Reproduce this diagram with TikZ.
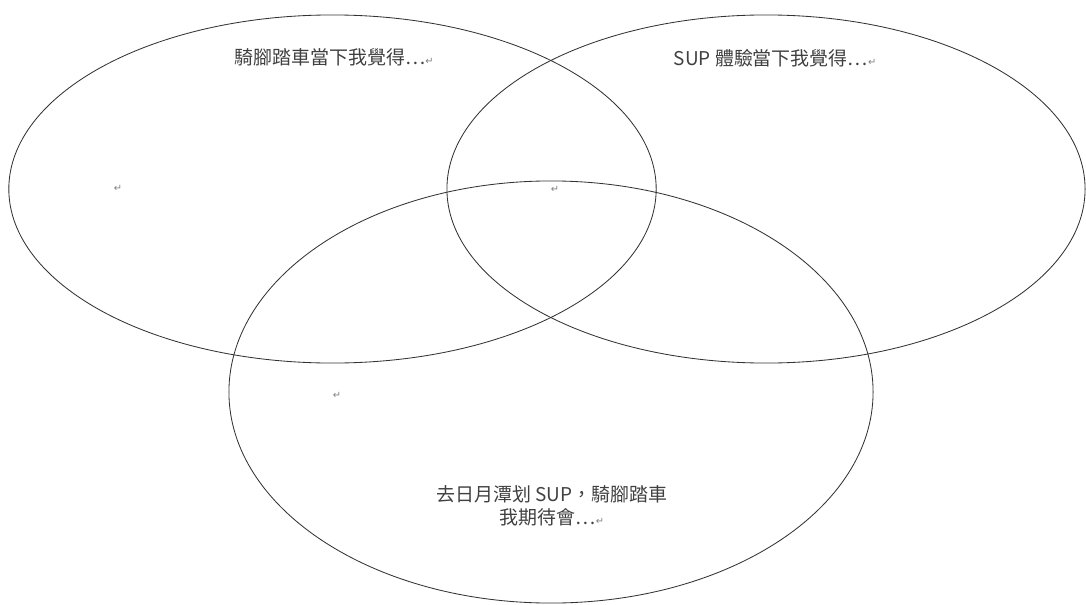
\documentclass[tikz,border=0pt]{standalone}
\usepackage{fontspec}
\newfontfamily\cjk{Noto Sans CJK TC}
\newfontfamily\retfont{DejaVu Sans}
\usetikzlibrary{shapes.geometric}

\newcommand{\retmark}{{\retfont\color{gray}\scriptsize ↵}}

\begin{document}
\begin{tikzpicture}[x=0.025cm, y=-0.025cm,
ring/.style={ellipse, draw=black!80, line width=0.6pt, inner sep=0pt},
caption/.style={font=\cjk\fontsize{13.5}{16.5}\selectfont, text=black!75, align=center, inner sep=0pt}
]
\useasboundingbox (0,0) rectangle (1086,605);

\node[ring, minimum width=16.18cm, minimum height=8.7cm](bike_ring) at (332.5,189) {};
\node[ring, minimum width=15.95cm, minimum height=8.7cm](sup_ring) at (766,189) {};
\node[ring, minimum width=16.1cm, minimum height=10.55cm](trip_ring) at (551,392) {};

\node[caption](bike_text) at (334,57) {騎腳踏車當下我覺得…\retmark};
\node[caption](sup_text) at (775,58) {SUP 體驗當下我覺得…\retmark};
\node[caption](trip_text) at (552,506) {去日月潭划 SUP，騎腳踏車\\我期待會…\retmark};

\node(bike_mark) at (118,188) {\retmark};
\node(mid_mark) at (555,189) {\retmark};
\node(trip_mark) at (337,395) {\retmark};
\end{tikzpicture}
\end{document}
